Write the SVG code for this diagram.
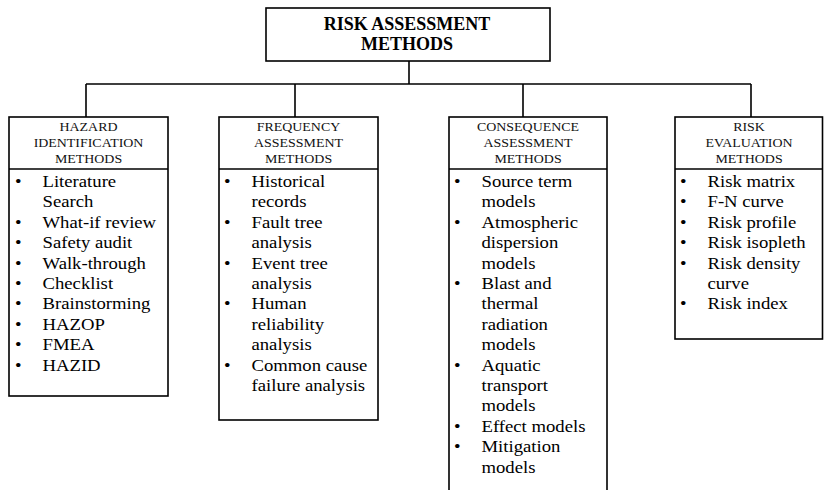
<svg xmlns="http://www.w3.org/2000/svg" width="824" height="490" viewBox="0 0 824 490">
<style>
.box{fill:#fff;stroke:#000;stroke-width:1.6}
.div{stroke:#000;stroke-width:1.6}
.conn{stroke:#000;stroke-width:1.6;fill:none}
.title{font-family:"Liberation Serif","Times New Roman",serif;font-weight:bold;font-size:18px;fill:#000;text-anchor:middle}
.head{font-family:"Liberation Serif","Times New Roman",serif;font-size:12px;fill:#111;text-anchor:middle}
.item{font-family:"Liberation Serif","Times New Roman",serif;font-size:17px;fill:#000}
</style>
<rect width="824" height="490" fill="#fff"/>
<g id="connectors">
<path class="conn" d="M409 61V84M86 84H751M86 84V117M295 84V117M523 84V117M751 84V117"/>
</g>
<g id="root">
<rect class="box" x="266" y="8" width="284" height="53"/>
<text class="title" x="407" y="30">RISK ASSESSMENT</text>
<text class="title" x="407" y="50">METHODS</text>
</g>
<g id="hazard">
<rect class="box" x="9" y="117" width="159" height="279"/>
<line class="div" x1="9" y1="169" x2="168" y2="169"/>
<g transform="translate(88.5,0) scale(1.16,1)">
<text class="head" x="0" y="131">HAZARD</text>
<text class="head" x="0" y="147">IDENTIFICATION</text>
<text class="head" x="0" y="163">METHODS</text>
</g>
<g transform="translate(15,0) scale(1.1,1)">
<text class="item" x="0" y="187">•</text><text class="item" x="25" y="187">Literature</text>
<text class="item" x="25" y="207.4">Search</text>
<text class="item" x="0" y="227.8">•</text><text class="item" x="25" y="227.8">What-if review</text>
<text class="item" x="0" y="248.2">•</text><text class="item" x="25" y="248.2">Safety audit</text>
<text class="item" x="0" y="268.6">•</text><text class="item" x="25" y="268.6">Walk-through</text>
<text class="item" x="0" y="289">•</text><text class="item" x="25" y="289">Checklist</text>
<text class="item" x="0" y="309.4">•</text><text class="item" x="25" y="309.4">Brainstorming</text>
<text class="item" x="0" y="329.8">•</text><text class="item" x="25" y="329.8">HAZOP</text>
<text class="item" x="0" y="350.2">•</text><text class="item" x="25" y="350.2">FMEA</text>
<text class="item" x="0" y="370.6">•</text><text class="item" x="25" y="370.6">HAZID</text>
</g>
</g>
<g id="frequency">
<rect class="box" x="219" y="117" width="159" height="303"/>
<line class="div" x1="219" y1="169" x2="378" y2="169"/>
<g transform="translate(298.5,0) scale(1.16,1)">
<text class="head" x="0" y="131">FREQUENCY</text>
<text class="head" x="0" y="147">ASSESSMENT</text>
<text class="head" x="0" y="163">METHODS</text>
</g>
<g transform="translate(224,0) scale(1.1,1)">
<text class="item" x="0" y="187">•</text><text class="item" x="25" y="187">Historical</text>
<text class="item" x="25" y="207.4">records</text>
<text class="item" x="0" y="227.8">•</text><text class="item" x="25" y="227.8">Fault tree</text>
<text class="item" x="25" y="248.2">analysis</text>
<text class="item" x="0" y="268.6">•</text><text class="item" x="25" y="268.6">Event tree</text>
<text class="item" x="25" y="289">analysis</text>
<text class="item" x="0" y="309.4">•</text><text class="item" x="25" y="309.4">Human</text>
<text class="item" x="25" y="329.8">reliability</text>
<text class="item" x="25" y="350.2">analysis</text>
<text class="item" x="0" y="370.6">•</text><text class="item" x="25" y="370.6">Common cause</text>
<text class="item" x="25" y="391">failure analysis</text>
</g>
</g>
<g id="consequence">
<rect class="box" x="449" y="117" width="158" height="390"/>
<line class="div" x1="449" y1="169" x2="607" y2="169"/>
<g transform="translate(528,0) scale(1.16,1)">
<text class="head" x="0" y="131">CONSEQUENCE</text>
<text class="head" x="0" y="147">ASSESSMENT</text>
<text class="head" x="0" y="163">METHODS</text>
</g>
<g transform="translate(454,0) scale(1.1,1)">
<text class="item" x="0" y="187">•</text><text class="item" x="25" y="187">Source term</text>
<text class="item" x="25" y="207.4">models</text>
<text class="item" x="0" y="227.8">•</text><text class="item" x="25" y="227.8">Atmospheric</text>
<text class="item" x="25" y="248.2">dispersion</text>
<text class="item" x="25" y="268.6">models</text>
<text class="item" x="0" y="289">•</text><text class="item" x="25" y="289">Blast and</text>
<text class="item" x="25" y="309.4">thermal</text>
<text class="item" x="25" y="329.8">radiation</text>
<text class="item" x="25" y="350.2">models</text>
<text class="item" x="0" y="370.6">•</text><text class="item" x="25" y="370.6">Aquatic</text>
<text class="item" x="25" y="391">transport</text>
<text class="item" x="25" y="411.4">models</text>
<text class="item" x="0" y="431.8">•</text><text class="item" x="25" y="431.8">Effect models</text>
<text class="item" x="0" y="452.2">•</text><text class="item" x="25" y="452.2">Mitigation</text>
<text class="item" x="25" y="472.6">models</text>
</g>
</g>
<g id="evaluation">
<rect class="box" x="675" y="117" width="147.5" height="222"/>
<line class="div" x1="675" y1="169" x2="822.5" y2="169"/>
<g transform="translate(749,0) scale(1.16,1)">
<text class="head" x="0" y="131">RISK</text>
<text class="head" x="0" y="147">EVALUATION</text>
<text class="head" x="0" y="163">METHODS</text>
</g>
<g transform="translate(680,0) scale(1.1,1)">
<text class="item" x="0" y="187">•</text><text class="item" x="25" y="187">Risk matrix</text>
<text class="item" x="0" y="207.4">•</text><text class="item" x="25" y="207.4">F-N curve</text>
<text class="item" x="0" y="227.8">•</text><text class="item" x="25" y="227.8">Risk profile</text>
<text class="item" x="0" y="248.2">•</text><text class="item" x="25" y="248.2">Risk isopleth</text>
<text class="item" x="0" y="268.6">•</text><text class="item" x="25" y="268.6">Risk density</text>
<text class="item" x="25" y="289">curve</text>
<text class="item" x="0" y="309.4">•</text><text class="item" x="25" y="309.4">Risk index</text>
</g>
</g>
</svg>
